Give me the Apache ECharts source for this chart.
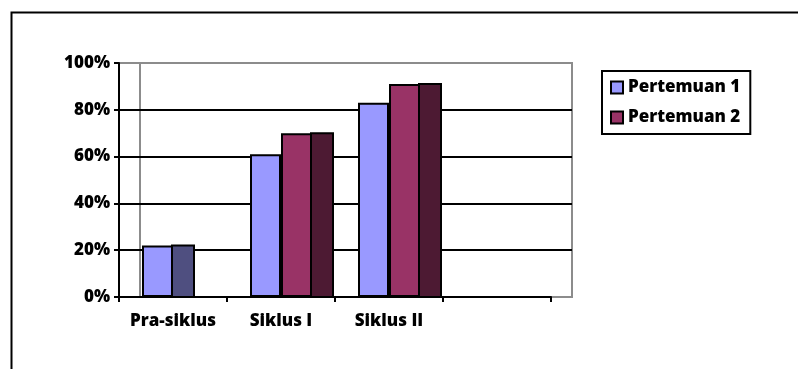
<!DOCTYPE html>
<html>
<head>
<meta charset="utf-8">
<script src="https://cdn.jsdelivr.net/npm/echarts@6/dist/echarts.min.js"></script>
<style>html,body{margin:0;padding:0;background:#fff;}#c{width:798px;height:369px;}</style>
</head>
<body>
<div id="c"></div>
<script>
const categories = ['Pra-siklus', 'Siklus I', 'Siklus II', ''];
const seriesNames = ['Pertemuan 1', 'Pertemuan 2'];
const pertemuan1 = [22, 61, 83, null];
const pertemuan2 = [null, 70, 91, null];
const yTicks = [0, 20, 40, 60, 80, 100];

const FONT = 'Open Sans';
const FW = 800;
const chart = echarts.init(document.getElementById('c'), null, {renderer: 'canvas'});

const sideData = categories.map((c, i) => {
  const has2 = pertemuan2[i] != null;
  const v = has2 ? pertemuan2[i] : pertemuan1[i];
  return v == null ? null : [i, v, has2 ? 1 : 0];
}).filter(d => d);

const BAR_W = 31, SIDE_W = 22;

chart.setOption({
  animation: false,
  backgroundColor: '#fff',
  graphic: [{
    type: 'rect', left: 9, top: 10, z: -10,
    shape: {width: 1000, height: 1000},
    style: {fill: 'none', stroke: '#000', lineWidth: 2}
  }],
  grid: [
    {left: 119, top: 63, width: 453, height: 234, show: true, borderColor: '#8c8c8c', borderWidth: 2, backgroundColor: 'transparent', z: -1},
    {left: 119, top: 63, width: 432, height: 234}
  ],
  legend: {
    data: seriesNames,
    orient: 'vertical',
    left: 602, top: 71,
    padding: [8, 10, 8, 8],
    itemGap: 13,
    itemWidth: 12, itemHeight: 12,
    borderColor: '#000', borderWidth: 2,
    icon: 'rect',
    textStyle: {fontFamily: FONT, fontWeight: FW, fontSize: 17, color: '#000'}
  },
  xAxis: [
    {type: 'value', gridIndex: 0, show: false, min: 0, max: 1},
    {
      type: 'category', gridIndex: 1, data: categories, boundaryGap: true,
      axisLine: {lineStyle: {color: '#000', width: 2}},
      axisTick: {show: true, length: 5, lineStyle: {color: '#000', width: 2}},
      axisLabel: {fontFamily: FONT, fontWeight: FW, fontSize: 17, color: '#000', margin: 16, interval: 0},
      z: 5
    }
  ],
  yAxis: [
    {
      type: 'value', gridIndex: 0, min: 0, max: 100, interval: 20,
      axisLine: {show: true, lineStyle: {color: '#000', width: 2}},
      axisTick: {show: true, length: 5, lineStyle: {color: '#000', width: 2}},
      axisLabel: {formatter: '{value}%', fontFamily: FONT, fontWeight: FW, fontSize: 17, color: '#000', margin: 9},
      splitLine: {show: true, showMinLine: false, showMaxLine: false, lineStyle: {color: '#000', width: 2}},
      z: 5
    },
    {
      type: 'value', gridIndex: 0, min: 0, max: 100, interval: 20, position: 'left', offset: -21,
      axisLine: {show: true, lineStyle: {color: '#8c8c8c', width: 2}},
      axisTick: {show: false}, axisLabel: {show: false}, splitLine: {show: false}, z: 1
    },
    {type: 'value', gridIndex: 1, min: 0, max: 100, interval: 20, show: false, splitLine: {show: false}}
  ],
  series: [
    {
      name: seriesNames[0], type: 'bar', xAxisIndex: 1, yAxisIndex: 2,
      data: pertemuan1, barWidth: BAR_W, barGap: '0%',
      itemStyle: {color: '#9999FF', borderColor: '#000', borderWidth: 2}, z: 6
    },
    {
      name: seriesNames[1], type: 'bar', xAxisIndex: 1, yAxisIndex: 2,
      data: pertemuan2, barWidth: BAR_W, barGap: '0%',
      itemStyle: {color: '#993366', borderColor: '#000', borderWidth: 2}, z: 6
    },
    {
      name: 'side', type: 'custom', xAxisIndex: 1, yAxisIndex: 2, z: 6,
      data: sideData,
      renderItem: function (params, api) {
        const idx = api.value(0), v = api.value(1), has2 = api.value(2);
        const base = api.coord([idx, 0]);
        const top = api.coord([idx, v]);
        const x0 = base[0] + (has2 ? BAR_W : 0) - 1;
        return {
          type: 'rect',
          shape: {x: x0, y: top[1], width: SIDE_W, height: base[1] - top[1]},
          style: {fill: has2 ? '#4D1A33' : '#4F4F80', stroke: '#000', lineWidth: 2}
        };
      }
    }
  ]
});
</script>
</body>
</html>
